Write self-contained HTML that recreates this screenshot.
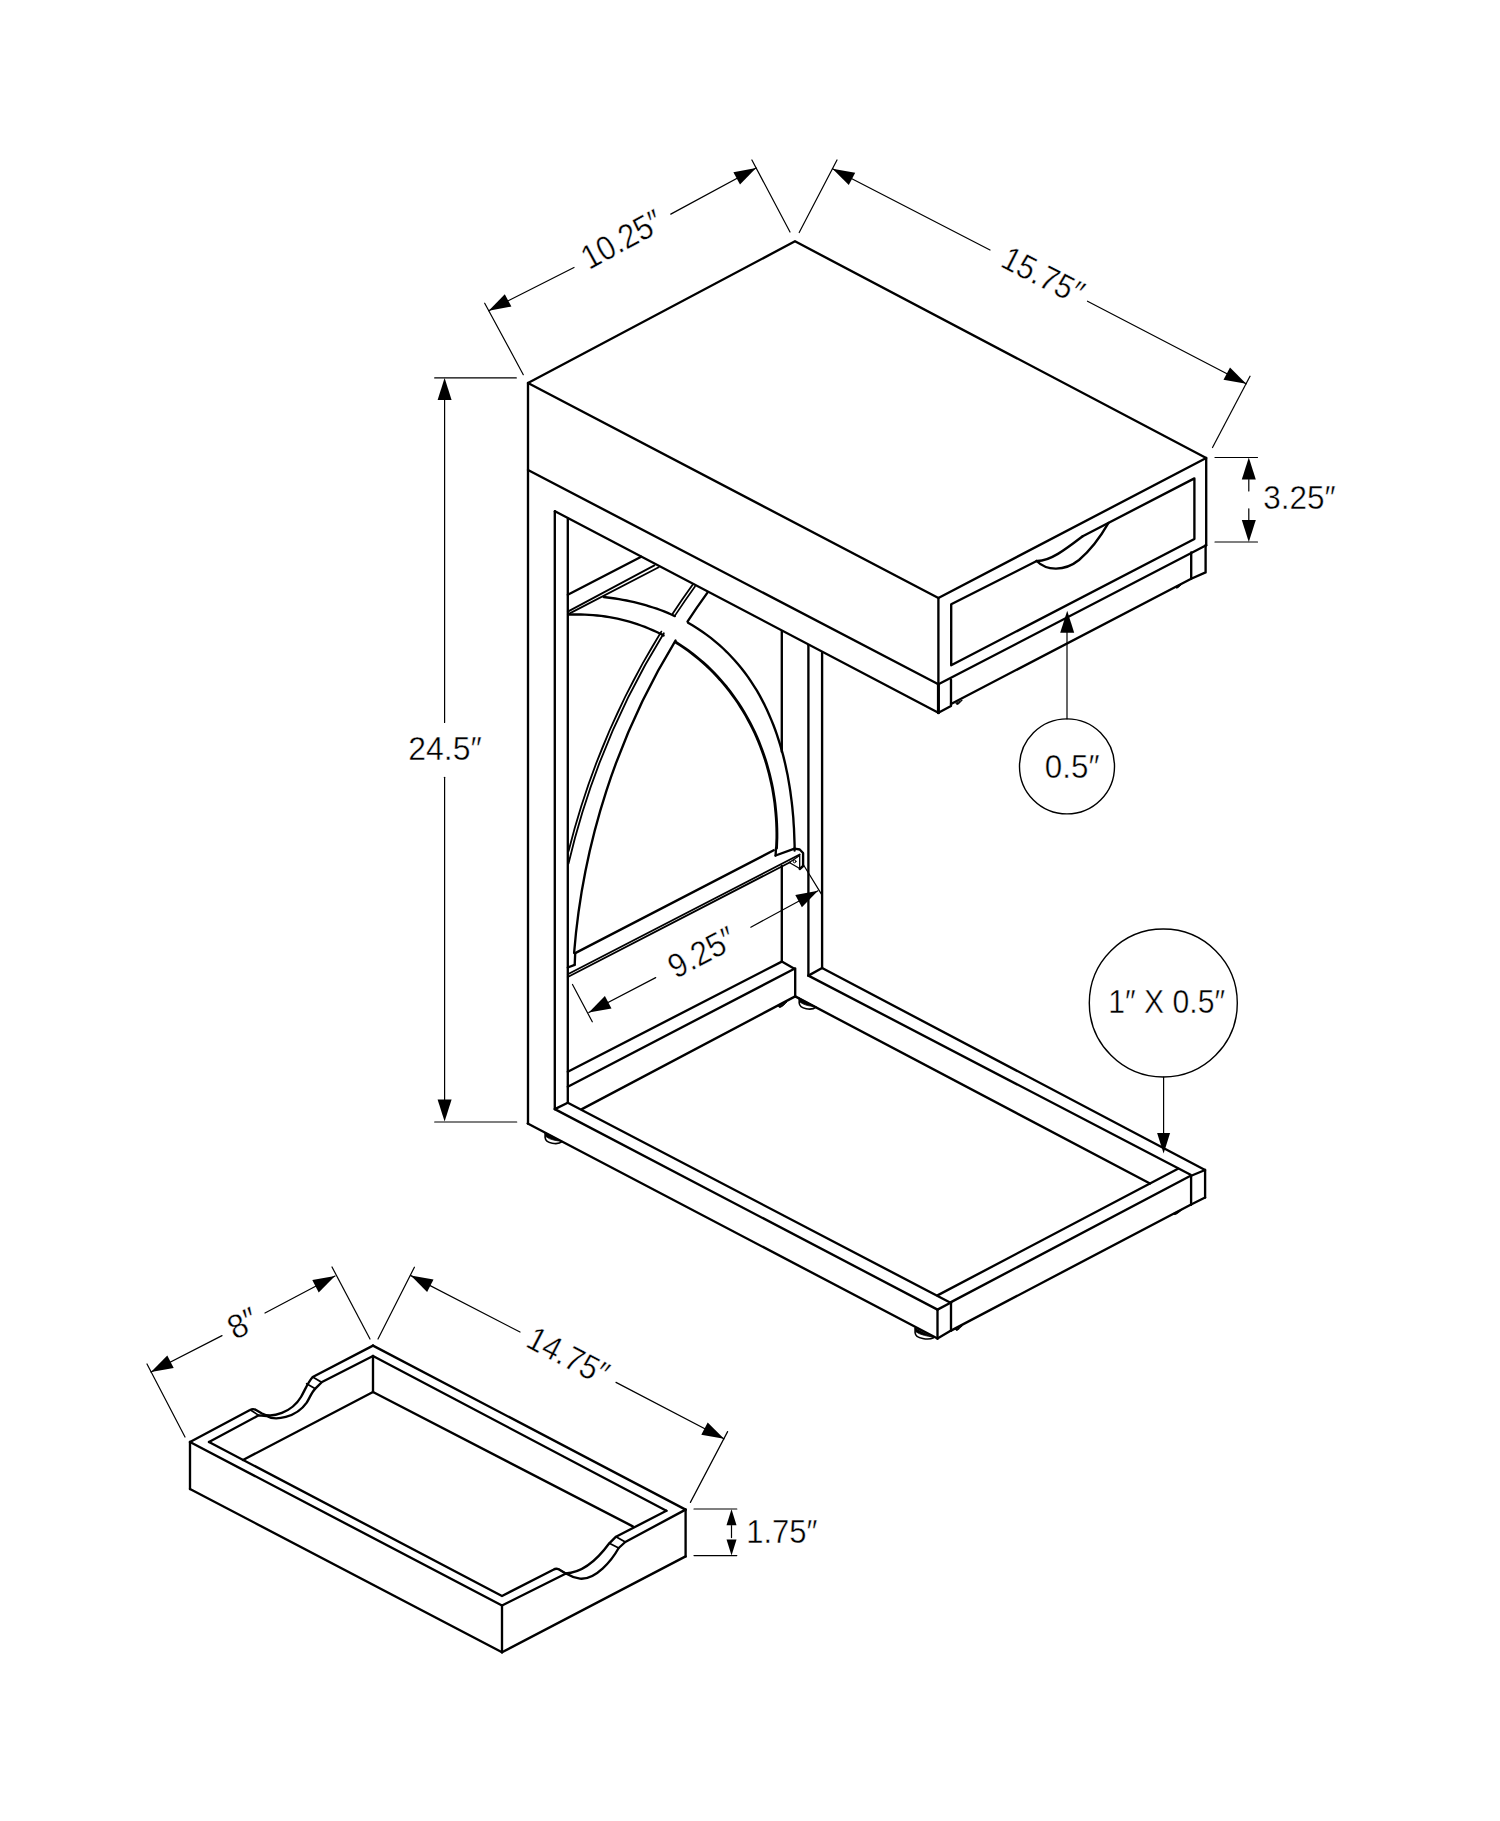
<!DOCTYPE html>
<html><head><meta charset="utf-8"><style>
html,body{margin:0;padding:0;background:#fff;}
svg{display:block;}
svg line, svg path, svg circle, svg ellipse{fill:none;stroke:#000;stroke-linecap:round;stroke-linejoin:round;}
svg text{font-family:"Liberation Sans",sans-serif;fill:#000;stroke:#fff;stroke-width:0.45px;}
</style></head><body>
<svg width="1500" height="1821" viewBox="0 0 1500 1821">
<rect width="1500" height="1821" fill="#fff"/>
<path d="M528,383 L795,241.3 L1206.2,458 L938.4,598Z" stroke-width="2.35"/>
<line x1="528" y1="383" x2="528" y2="1123.5" stroke-width="2.35"/>
<line x1="938.4" y1="598" x2="938.4" y2="712.7" stroke-width="2.35"/>
<line x1="1206.2" y1="458" x2="1206.2" y2="545.2" stroke-width="2.35"/>
<line x1="528" y1="470" x2="938.4" y2="684.3" stroke-width="2.35"/>
<line x1="938.4" y1="684.3" x2="1206.2" y2="545.2" stroke-width="2.35"/>
<path d="M1036.7,561 L951.2,604.3 L951.2,665.2 L1194.4,539 L1194.4,478.4 L1082.7,536.2" stroke-width="2.35"/>
<path d="M1036.7,561 C1046,570.5 1064,572 1079,560 C1092,549 1101,536 1108.5,522.9" stroke-width="2.35"/>
<path d="M1036.7,561 C1050,561.5 1066,549 1082.7,536.2" stroke-width="2.35"/>
<path d="M938.4,712.7 L951,706 L951,679.7" stroke-width="2.35"/>
<line x1="938.4" y1="684.3" x2="938.4" y2="712.7" stroke-width="3.0"/>
<line x1="951" y1="704" x2="1191.2" y2="578.7" stroke-width="2.35"/>
<path d="M1191.2,552.4 L1191.2,578.8 L1205.6,572.4 L1205.6,545.2" stroke-width="2.35"/>
<line x1="555" y1="511.2" x2="938.4" y2="712.7" stroke-width="2.35"/>
<line x1="554.8" y1="511.2" x2="554.8" y2="1109.1" stroke-width="2.35"/>
<line x1="567.8" y1="518.7" x2="567.8" y2="1102.7" stroke-width="2.35"/>
<line x1="781.8" y1="631.5" x2="781.8" y2="751.8" stroke-width="2.35"/>
<line x1="781.8" y1="866" x2="781.8" y2="961.6" stroke-width="2.35"/>
<line x1="808.4" y1="645.3" x2="808.4" y2="975.6" stroke-width="2.35"/>
<line x1="822.1" y1="652.8" x2="822.1" y2="968" stroke-width="2.35"/>
<line x1="567.8" y1="594.7" x2="641.2" y2="556.7" stroke-width="2.35"/>
<line x1="567.8" y1="611.6" x2="654.4" y2="565.4" stroke-width="1.8"/>
<line x1="567.8" y1="614.4" x2="658.7" y2="567.2" stroke-width="1.8"/>
<path d="M603.7,597 L607.5,597.5 L611.3,598 L615.2,598.5 L619,599.1 L622.8,599.8 L626.6,600.5 L630.5,601.3 L634.2,602.2 L638,603.1 L641.8,604.1 L645.6,605.2 L649.3,606.3 L653,607.5 L656.7,608.7 L660.4,610 L664.1,611.4 L667.7,612.9 L671.3,614.5 L674.9,616.1" stroke-width="2.35"/>
<path d="M688.1,622.8 L692.8,625.6 L697.5,628.5 L702,631.5 L706.4,634.6 L710.8,637.9 L715,641.3 L719.2,644.8 L723.2,648.5 L727.1,652.3 L730.9,656.2 L734.6,660.2 L738.1,664.3 L741.6,668.5 L744.9,672.8 L748.1,677.1 L751.1,681.6 L754,686.1 L756.9,690.7 L759.6,695.4 L762.1,700.1 L764.6,704.9 L766.9,709.8 L769.1,714.7 L771.2,719.6 L773.2,724.5 L775.1,729.5 L776.9,734.6 L778.5,739.6 L780.1,744.7 L781.6,749.8 L783,754.9 L784.3,760.1 L785.5,765.2 L786.6,770.4 L787.7,775.6 L788.6,780.9 L789.5,786.1 L790.3,791.3 L791,796.6 L791.7,801.9 L792.3,807.2 L792.8,812.6 L793.3,817.9 L793.6,823.3 L794,828.7 L794.2,834.1 L794.4,839.6 L794.6,845.1 L794.6,850.6" stroke-width="2.35"/>
<path d="M568.5,614.7 L572.6,614.5 L576.7,614.5 L580.8,614.5 L584.9,614.6 L589,614.8 L593.1,615.1 L597.1,615.5 L601.2,615.9 L605.3,616.5 L609.3,617.1 L613.4,617.9 L617.4,618.7 L621.4,619.6 L625.4,620.6 L629.3,621.7 L633.3,622.9 L637.2,624.2 L641,625.5 L644.9,626.9 L648.7,628.5 L652.5,630.1 L656.2,631.8 L659.9,633.5 L663.6,635.4" stroke-width="2.35"/>
<path d="M675.8,642.3 L679.9,644.9 L684,647.6 L688,650.4 L691.9,653.3 L695.7,656.4 L699.5,659.5 L703.2,662.7 L706.8,665.9 L710.3,669.3 L713.8,672.8 L717.1,676.3 L720.4,679.9 L723.6,683.6 L726.7,687.3 L729.7,691.2 L732.6,695.1 L735.4,699 L738.2,703 L740.8,707.1 L743.4,711.2 L745.8,715.4 L748.2,719.7 L750.5,724 L752.7,728.3 L754.8,732.7 L756.8,737.1 L758.7,741.6 L760.5,746.2 L762.2,750.7 L763.8,755.3 L765.4,760 L766.8,764.6 L768.1,769.3 L769.4,774.1 L770.5,778.8 L771.6,783.6 L772.6,788.5 L773.4,793.3 L774.2,798.2 L774.9,803.1 L775.4,808 L775.9,813 L776.3,817.9 L776.6,822.9 L776.8,827.9 L776.9,832.9 L776.9,838 L776.7,843 L776.5,848.1" stroke-width="2.9"/>
<line x1="776" y1="848" x2="775.6" y2="855.5" stroke-width="2.35"/>
<line x1="775.6" y1="855.5" x2="794.5" y2="848.6" stroke-width="2.35"/>
<path d="M695,586.5 A775.6,775.6 0 0 0 675.1,615.4" stroke-width="1.7"/>
<path d="M692.6,584.8 A778.5,778.5 0 0 0 672.6,613.8" stroke-width="1.8"/>
<path d="M663.8,633.2 A775.6,775.6 0 0 0 568.5,863.6" stroke-width="1.8"/>
<path d="M661.3,631.6 A778.5,778.5 0 0 0 568.6,851" stroke-width="1.8"/>
<path d="M707.3,592.9 A705.9,705.9 0 0 0 687.5,621.6" stroke-width="2.35"/>
<path d="M675.5,640.6 A705.9,705.9 0 0 0 574.1,953" stroke-width="2.35"/>
<line x1="575.2" y1="953.1" x2="574.7" y2="964.8" stroke-width="2.35"/>
<line x1="567.8" y1="967.5" x2="574.7" y2="964.8" stroke-width="2.35"/>
<line x1="575.2" y1="953.1" x2="773.7" y2="850.3" stroke-width="2.35"/>
<path d="M794.5,848.6 L799.7,849.5 L803.1,853 L803.1,866 L799.7,869" stroke-width="2.35"/>
<line x1="567.8" y1="974.2" x2="799.7" y2="854.5" stroke-width="1.8"/>
<line x1="567.8" y1="977" x2="790" y2="862.2" stroke-width="1.8"/>
<path d="M789.3,862.5 L799.7,855.5 L799.7,868.5Z" stroke-width="1.3"/>
<circle cx="794.6" cy="861.4" r="1.4" stroke-width="1.0"/>
<line x1="567.8" y1="1071.7" x2="781.8" y2="961.6" stroke-width="2.35"/>
<line x1="567.8" y1="1086.7" x2="794.4" y2="968.8" stroke-width="2.35"/>
<line x1="781.8" y1="961.6" x2="794.4" y2="968.8" stroke-width="2.35"/>
<line x1="795.2" y1="968.4" x2="795.2" y2="996.4" stroke-width="2.35"/>
<line x1="581.9" y1="1109.1" x2="795.2" y2="996.4" stroke-width="2.35"/>
<line x1="527.7" y1="1123.5" x2="937.5" y2="1338.5" stroke-width="2.35"/>
<line x1="554.8" y1="1109.1" x2="937.5" y2="1309.6" stroke-width="2.35"/>
<line x1="567.8" y1="1102.7" x2="951" y2="1303" stroke-width="2.35"/>
<line x1="554.8" y1="1109.1" x2="567.8" y2="1102.7" stroke-width="2.35"/>
<path d="M937.5,1309.6 L951,1302.5" stroke-width="2.35"/>
<line x1="937.5" y1="1309.6" x2="937.5" y2="1338.5" stroke-width="2.35"/>
<line x1="951" y1="1302.5" x2="951" y2="1330.6" stroke-width="2.35"/>
<line x1="937.5" y1="1338.5" x2="951" y2="1330.6" stroke-width="2.35"/>
<line x1="937.5" y1="1295.4" x2="1178" y2="1168.7" stroke-width="2.35"/>
<line x1="951" y1="1302.1" x2="1190.1" y2="1176" stroke-width="2.35"/>
<line x1="951" y1="1330.6" x2="1191.1" y2="1204.5" stroke-width="2.35"/>
<line x1="822.1" y1="968" x2="1204.6" y2="1169.7" stroke-width="2.35"/>
<line x1="808.4" y1="975.6" x2="1190.6" y2="1174.8" stroke-width="2.35"/>
<line x1="795.2" y1="996.4" x2="1150" y2="1183.5" stroke-width="2.35"/>
<line x1="808.4" y1="975.6" x2="822.1" y2="968" stroke-width="2.35"/>
<path d="M1190.6,1176 L1205.1,1170" stroke-width="2.35"/>
<line x1="1191.1" y1="1176" x2="1191.1" y2="1204.5" stroke-width="2.35"/>
<line x1="1205.1" y1="1170" x2="1205.1" y2="1197.5" stroke-width="2.35"/>
<line x1="1191.1" y1="1204.5" x2="1205.1" y2="1197.5" stroke-width="2.35"/>
<path d="M545.1,1132.8 L545.1,1137.5 C545.6,1143.8 557.9,1145.1 562.1,1141.7" stroke-width="1.6"/>
<path d="M545.1,1132.8 L545.9,1136.6 C550.2,1140 557,1140.9 560.9,1141.1 Z" style="fill:#000;stroke:#000;stroke-width:0.8"/>
<path d="M915.1,1328 L915.1,1332.7 C915.6,1339 928.9,1340.3 933.5,1337.7" stroke-width="1.6"/>
<path d="M915.1,1328 L915.9,1331.8 C920.6,1335.2 928,1336.1 932.3,1337.1 Z" style="fill:#000;stroke:#000;stroke-width:0.8"/>
<path d="M799.2,998.3 L799.2,1003 C799.7,1009.3 811.8,1010.6 816,1007.1" stroke-width="1.6"/>
<path d="M799.2,998.3 L800,1002.1 C804.2,1005.5 811,1006.4 814.8,1006.5 Z" style="fill:#000;stroke:#000;stroke-width:0.8"/>
<path d="M778.5,1006.6 C779.5,1009.6 784.5,1004.4 786.5,1002.4 Z" style="fill:#000;stroke:#000;stroke-width:1"/>
<path d="M955.5,1329.5 C956.5,1332.5 960,1328.1 962,1326.1 Z" style="fill:#000;stroke:#000;stroke-width:1"/>
<path d="M1173.5,1213.8 C1174.5,1216.8 1180.5,1211.1 1182.5,1209.1 Z" style="fill:#000;stroke:#000;stroke-width:1"/>
<path d="M956,703.5 C957,706.5 960,702.4 962,700.4 Z" style="fill:#000;stroke:#000;stroke-width:1"/>
<path d="M1175.5,587.2 C1176.5,590.2 1180.5,585.5 1182.5,583.5 Z" style="fill:#000;stroke:#000;stroke-width:1"/>
<line x1="484.7" y1="303.2" x2="523.3" y2="374.7" stroke-width="1.2"/>
<line x1="751.9" y1="160" x2="790" y2="232" stroke-width="1.2"/>
<line x1="488.7" y1="310.7" x2="574" y2="267.5" stroke-width="1.2"/>
<line x1="670.8" y1="214.1" x2="756.1" y2="168" stroke-width="1.2"/>
<path d="M488.7,310.7 L504.8,294.2 L511.4,306.5Z" style="fill:#000;stroke:none"/>
<path d="M756.1,168 L740,184.5 L733.4,172.2Z" style="fill:#000;stroke:none"/>
<text x="621.8" y="250.9" font-size="34" text-anchor="middle" textLength="87" lengthAdjust="spacingAndGlyphs" transform="rotate(-28.5 621.8 239.4)">10.25″</text>
<line x1="837" y1="160" x2="799.2" y2="232.5" stroke-width="1.2"/>
<line x1="832.5" y1="168.8" x2="990" y2="250" stroke-width="1.2"/>
<line x1="1087.5" y1="301.2" x2="1246.2" y2="383.8" stroke-width="1.2"/>
<line x1="1250" y1="376.2" x2="1212.5" y2="447.5" stroke-width="1.2"/>
<path d="M832.5,168.8 L855.2,172.7 L848.8,185.1Z" style="fill:#000;stroke:none"/>
<path d="M1246.2,383.8 L1223.5,379.8 L1230,367.4Z" style="fill:#000;stroke:none"/>
<text x="1043" y="287" font-size="34" text-anchor="middle" textLength="87" lengthAdjust="spacingAndGlyphs" transform="rotate(27 1043 275.5)">15.75″</text>
<line x1="1215" y1="457.5" x2="1257.5" y2="457.5" stroke-width="1.2"/>
<line x1="1215" y1="542" x2="1257.5" y2="542" stroke-width="1.2"/>
<line x1="1248.8" y1="479.5" x2="1248.8" y2="491" stroke-width="1.2"/>
<line x1="1248.8" y1="508.8" x2="1248.8" y2="520" stroke-width="1.2"/>
<path d="M1248.8,457.5 L1255.8,479.5 L1241.8,479.5Z" style="fill:#000;stroke:none"/>
<path d="M1248.8,542 L1241.8,520 L1255.8,520Z" style="fill:#000;stroke:none"/>
<text x="1299.4" y="508.9" font-size="34" text-anchor="middle" textLength="72.4" lengthAdjust="spacingAndGlyphs">3.25″</text>
<line x1="434.7" y1="377.9" x2="516.3" y2="377.9" stroke-width="1.2"/>
<line x1="434.7" y1="1122" x2="516.7" y2="1122" stroke-width="1.2"/>
<line x1="444.6" y1="400" x2="444.6" y2="722.4" stroke-width="1.2"/>
<line x1="444.6" y1="777.3" x2="444.6" y2="1100.3" stroke-width="1.2"/>
<path d="M444.6,378 L451.6,400 L437.6,400Z" style="fill:#000;stroke:none"/>
<path d="M444.6,1121.6 L437.6,1099.6 L451.6,1099.6Z" style="fill:#000;stroke:none"/>
<text x="445" y="760.2" font-size="34" text-anchor="middle" textLength="73.5" lengthAdjust="spacingAndGlyphs">24.5″</text>
<line x1="1067" y1="632" x2="1067" y2="719" stroke-width="1.2"/>
<path d="M1067.2,610.7 L1074.2,632.7 L1060.2,632.7Z" style="fill:#000;stroke:none"/>
<circle cx="1067" cy="766.4" r="47.5" stroke-width="1.4"/>
<text x="1072.2" y="778" font-size="34" text-anchor="middle" textLength="54.7" lengthAdjust="spacingAndGlyphs">0.5″</text>
<line x1="572.5" y1="984.5" x2="592.3" y2="1021.8" stroke-width="1.2"/>
<line x1="803.1" y1="864.2" x2="822.2" y2="895.4" stroke-width="1.2"/>
<line x1="588.8" y1="1012.5" x2="655.7" y2="977.6" stroke-width="1.2"/>
<line x1="750.8" y1="927.2" x2="818" y2="890.8" stroke-width="1.2"/>
<path d="M588.8,1012.5 L604.9,996 L611.5,1008.4Z" style="fill:#000;stroke:none"/>
<path d="M818,890.8 L801.9,907.3 L795.3,894.9Z" style="fill:#000;stroke:none"/>
<text x="701.8" y="964" font-size="34" text-anchor="middle" textLength="71.2" lengthAdjust="spacingAndGlyphs" transform="rotate(-28 701.8 952.5)">9.25″</text>
<circle cx="1163.3" cy="1003" r="74" stroke-width="1.4"/>
<line x1="1163.6" y1="1077" x2="1163.6" y2="1134" stroke-width="1.2"/>
<path d="M1163.6,1153.6 L1157.1,1133.1 L1170.1,1133.1Z" style="fill:#000;stroke:none"/>
<text x="1166.7" y="1013.4" font-size="34" text-anchor="middle" textLength="116.8" lengthAdjust="spacingAndGlyphs">1″ X 0.5″</text>
<line x1="147" y1="1364" x2="185" y2="1437" stroke-width="1.2"/>
<line x1="332" y1="1267" x2="370" y2="1339" stroke-width="1.2"/>
<line x1="151" y1="1372" x2="222" y2="1335.6" stroke-width="1.2"/>
<line x1="265" y1="1313" x2="335" y2="1276" stroke-width="1.2"/>
<path d="M151,1372 L167.3,1355.6 L173.7,1368Z" style="fill:#000;stroke:none"/>
<path d="M335,1276 L318.7,1292.4 L312.3,1280Z" style="fill:#000;stroke:none"/>
<text x="243" y="1334.9" font-size="34" text-anchor="middle" textLength="29.5" lengthAdjust="spacingAndGlyphs" transform="rotate(-28 243 1323.4)">8″</text>
<line x1="414.4" y1="1267.2" x2="378" y2="1339" stroke-width="1.2"/>
<line x1="727.6" y1="1431.6" x2="690.4" y2="1502.4" stroke-width="1.2"/>
<line x1="410.8" y1="1275.6" x2="520" y2="1332" stroke-width="1.2"/>
<line x1="616" y1="1382.4" x2="724" y2="1438.8" stroke-width="1.2"/>
<path d="M410.8,1275.6 L433.5,1279.6 L427.1,1292Z" style="fill:#000;stroke:none"/>
<path d="M724,1438.8 L701.3,1434.8 L707.7,1422.4Z" style="fill:#000;stroke:none"/>
<text x="568.1" y="1367.5" font-size="34" text-anchor="middle" textLength="87" lengthAdjust="spacingAndGlyphs" transform="rotate(27.5 568.1 1356)">14.75″</text>
<line x1="694" y1="1509" x2="736.8" y2="1509" stroke-width="1.2"/>
<line x1="694" y1="1555.6" x2="736.8" y2="1555.6" stroke-width="1.2"/>
<line x1="731.5" y1="1525.6" x2="731.5" y2="1537.6" stroke-width="1.2"/>
<path d="M731.5,1509.3 L736.5,1525.3 L726.5,1525.3Z" style="fill:#000;stroke:none"/>
<path d="M731.5,1555.6 L726.5,1539.6 L736.5,1539.6Z" style="fill:#000;stroke:none"/>
<text x="781.8" y="1543.3" font-size="34" text-anchor="middle" textLength="71.3" lengthAdjust="spacingAndGlyphs">1.75″</text>
<line x1="373" y1="1345.6" x2="685.6" y2="1509.6" stroke-width="2.35"/>
<line x1="502" y1="1605.5" x2="190" y2="1442" stroke-width="2.35"/>
<line x1="190" y1="1442" x2="190" y2="1489" stroke-width="2.35"/>
<line x1="502" y1="1605.5" x2="502" y2="1652.3" stroke-width="2.35"/>
<line x1="685.6" y1="1509.6" x2="685.6" y2="1556.4" stroke-width="2.35"/>
<line x1="190" y1="1489" x2="502" y2="1652.3" stroke-width="2.35"/>
<line x1="502" y1="1652.3" x2="685.6" y2="1556.4" stroke-width="2.35"/>
<path d="M190,1442 L250,1410 Q253,1408.3 256,1410 L262,1413.5 C272,1419 292,1412 301,1397 C305,1390 308,1382 312.7,1377 L373,1345.6" stroke-width="2.35"/>
<path d="M209,1442 L258.7,1415.3 L266.7,1416 C275,1421 296,1418 306.7,1402.7 C310,1397 312,1392 315.3,1388.7 L322,1382 L373,1356" stroke-width="2.35"/>
<line x1="306.7" y1="1383.8" x2="315.3" y2="1388.7" stroke-width="1.8"/>
<line x1="312.7" y1="1377" x2="321.6" y2="1382.2" stroke-width="1.8"/>
<line x1="250.5" y1="1410" x2="258.7" y2="1415.3" stroke-width="1.6"/>
<line x1="373" y1="1356" x2="666.4" y2="1510.8" stroke-width="2.35"/>
<path d="M666.4,1510.8 L616,1536.7 L609.3,1543.3 C600,1556 585,1573 565.3,1573.3 L558.7,1569.3 Q556,1568 553.3,1569.7 L502,1596 L209,1442" stroke-width="2.35"/>
<path d="M685.6,1509.6 L625.3,1542 L618.7,1548 C612,1560 596,1580 580,1578.7 C575,1578 571,1576.5 566,1573.5 L502,1605.5" stroke-width="2.35"/>
<line x1="609.3" y1="1543.3" x2="618.7" y2="1548" stroke-width="1.8"/>
<line x1="616" y1="1536.7" x2="625.3" y2="1542" stroke-width="1.8"/>
<line x1="558.7" y1="1569.3" x2="566" y2="1573.5" stroke-width="1.6"/>
<line x1="373" y1="1356" x2="373" y2="1392" stroke-width="2.35"/>
<line x1="373" y1="1392" x2="243" y2="1460" stroke-width="2.35"/>
<line x1="373" y1="1392" x2="632.8" y2="1526.4" stroke-width="2.35"/>
</svg></body></html>
